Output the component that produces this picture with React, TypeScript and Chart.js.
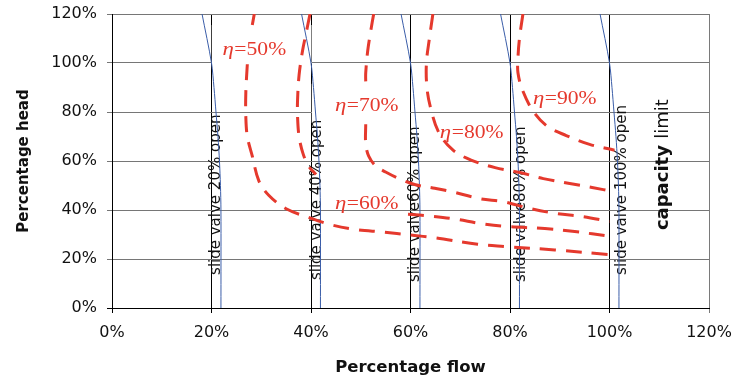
import React, { useEffect, useRef } from 'react';
import { Chart, registerables } from 'chart.js';

Chart.register(...registerables);

// ---------- data ----------
const FLOW_TICKS = [0, 20, 40, 60, 80, 100, 120];
const HEAD_TICKS = [0, 20, 40, 60, 80, 100, 120];

const valveNames = [
  'slide valve 20% open',
  'slide valve 40% open',
  'slide valve60% open',
  'slide valve80% open',
  'slide valve 100% open',
];
const valveHead = [120, 100, 90, 80, 70, 60, 50, 40, 0];
const valve20Flow = [18.1, 20.0, 20.5, 20.9, 21.3, 21.6, 21.8, 21.9, 21.9];
const valve40Flow = [38.1, 40.0, 40.5, 40.9, 41.3, 41.6, 41.8, 41.9, 41.9];
const valve60Flow = [58.1, 60.0, 60.5, 60.9, 61.3, 61.6, 61.8, 61.9, 61.9];
const valve80Flow = [78.1, 80.0, 80.5, 80.9, 81.3, 81.6, 81.8, 81.9, 81.9];
const valve100Flow = [98.1, 100.0, 100.5, 100.9, 101.3, 101.6, 101.8, 101.9, 101.9];

const etaNames = ['50%', '60%', '70%', '80%', '90%'];
// null head = gap in the curve (hidden behind a label)
const eta50Flow = [28.6, 28.2, 28.0, 27.2, 26.9, 26.9, 27.2, 28.2, 29.5, 31.5, 35.0, 39.5, 44.0, 49.0, 54.5, 60.0, 65.0, 73.5, 79.0, 89.0, 100.0];
const eta50Head = [120, 115.5, null, 99.5, 88, 78, 70, 62, 52, 46, 40.5, 37, 34, 32, 31, 29.8, 28.6, 26, 25.1, 23.7, 21.8];
const eta60Flow = [39.8, 39.0, 38.3, 37.6, 37.3, 37.3, 37.6, 38.4, 39.5, 41.0, 50.0, 59.5, 64.0, 69.0, 74.0, 79.0, 87.0, 93.0, 100.0];
const eta60Head = [120, 112, 105, 95, 85, 78, 70, 63, 58, 54.5, null, 38.3, 37.5, 36.3, 34.5, 33.3, 32.4, 31.2, 29.3];
const eta70Flow = [52.6, 52.0, 51.4, 51.0, 51.0, 51.0, 51.0, 51.0, 51.6, 53.0, 55.0, 58.0, 61.0, 64.5, 68.0, 74.0, 78.7, 84.0, 89.2, 94.7, 100.0];
const eta70Head = [120, 113, 105, 96, 92, null, 75, 67, 62, 58, 55.5, 52.5, 50.3, 49, 47.6, 44.6, 43.4, 40.6, 38.6, 37.3, 35.3];
const eta80Flow = [64.5, 63.8, 63.2, 63.3, 64.0, 65.6, 68.5, 72.3, 77.0, 82.0, 86.7, 92.0, 96.5, 101.0];
const eta80Head = [120, 110, 100, 90, 82, 72, 64.5, 60.3, 57.3, 55.3, 52.8, 50.8, 49.2, 47.4];
const eta90Flow = [82.6, 81.9, 81.6, 81.6, 82.5, 84.6, 87.4, 91.3, 96.0, 101.0];
const eta90Head = [120, 110, 102, 96, 89, 80.5, 74.3, 70.4, 66.8, 64.4];

const capacityWords = ['capacity', 'limit'];

// ---------- label placement (data coordinates) ----------
const ETA_LABEL_POS = [
  [22.2, 103.3],
  [44.8, 40.6],
  [44.8, 80.3],
  [65.9, 69.5],
  [84.6, 83.3],
];
const VALVE_LABEL_POS = [
  [21.7, 13.5],
  [42.0, 11.4],
  [61.8, 10.6],
  [83.0, 10.6],
  [103.4, 13.5],
];
const CAPACITY_POS = [111.8, 31.8];
const LABEL_BOXES = [
  { x0: 20.05, x1: 40.1, y0: 99.7, y1: 115.5 },
  { x0: 40.15, x1: 59.9, y0: 75.5, y1: 91.5 },
];

const RED = '#e5392d';
const BLUE = '#3a5da8';

function pts(xs: number[], ys: (number | null)[]) {
  return xs.map((x, i) => ({ x, y: ys[i] }));
}

const overlayPlugin = {
  id: 'overlayLabels',
  beforeDatasetsDraw(chart: any) {
    const { ctx, scales } = chart;
    const x = scales.x, y = scales.y;
    ctx.save();
    ctx.fillStyle = '#ffffff';
    for (const b of LABEL_BOXES) {
      const l = x.getPixelForValue(b.x0), r = x.getPixelForValue(b.x1);
      const t = y.getPixelForValue(b.y1), bt = y.getPixelForValue(b.y0);
      ctx.fillRect(l, t, r - l, bt - t);
    }
    ctx.fillStyle = '#111';
    ctx.font = '15px "DejaVu Sans"';
    ctx.textAlign = 'left';
    ctx.textBaseline = 'alphabetic';
    valveNames.forEach((name, i) => {
      const px = x.getPixelForValue(VALVE_LABEL_POS[i][0]);
      const py = y.getPixelForValue(VALVE_LABEL_POS[i][1]);
      ctx.save();
      ctx.translate(px, py);
      ctx.rotate(-Math.PI / 2);
      ctx.fillText(name, 0, 0);
      ctx.restore();
    });
    // capacity limit
    {
      const px = x.getPixelForValue(CAPACITY_POS[0]);
      const py = y.getPixelForValue(CAPACITY_POS[1]);
      ctx.save();
      ctx.translate(px, py);
      ctx.rotate(-Math.PI / 2);
      ctx.font = 'bold 18px "DejaVu Sans"';
      ctx.fillText(capacityWords[0], 0, 0);
      const w = ctx.measureText(capacityWords[0] + ' ').width;
      ctx.font = '18px "DejaVu Sans"';
      ctx.fillText(capacityWords[1], w, 0);
      ctx.restore();
    }
    ctx.restore();
  },
  afterDatasetsDraw(chart: any) {
    const { ctx, scales } = chart;
    const x = scales.x, y = scales.y;
    ctx.save();
    ctx.fillStyle = RED;
    ctx.textAlign = 'left';
    ctx.textBaseline = 'alphabetic';
    etaNames.forEach((name, i) => {
      const px = x.getPixelForValue(ETA_LABEL_POS[i][0]);
      const py = y.getPixelForValue(ETA_LABEL_POS[i][1]);
      ctx.save();
      ctx.translate(px, py);
      ctx.scale(1.2, 1);
      ctx.font = 'italic 19px "Liberation Serif"';
      ctx.fillText('\u03B7', 0, 0);
      const w = ctx.measureText('\u03B7').width;
      ctx.font = '18px "Liberation Serif"';
      ctx.fillText('=' + name, w + 0.5, 0);
      ctx.restore();
    });
    ctx.restore();
  },
};

export default function App() {
  const ref = useRef<HTMLCanvasElement | null>(null);
  useEffect(() => {
    if (!ref.current) return;
    const redDs = (data: any) => ({
      data,
      showLine: true,
      borderColor: RED,
      borderWidth: 3,
      borderDash: [16, 10],
      pointRadius: 0,
      tension: 0.35,
      spanGaps: false,
      fill: false,
    });
    const blueDs = (data: any) => ({
      data,
      showLine: true,
      borderColor: BLUE,
      borderWidth: 1,
      pointRadius: 0,
      tension: 0.3,
      fill: false,
    });
    const chart = new Chart(ref.current, {
      type: 'scatter',
      data: {
        datasets: [
          redDs(pts(eta50Flow, eta50Head)),
          redDs(pts(eta60Flow, eta60Head)),
          redDs(pts(eta70Flow, eta70Head)),
          redDs(pts(eta80Flow, eta80Head)),
          redDs(pts(eta90Flow, eta90Head)),
          blueDs(pts(valve20Flow, valveHead)),
          blueDs(pts(valve40Flow, valveHead)),
          blueDs(pts(valve60Flow, valveHead)),
          blueDs(pts(valve80Flow, valveHead)),
          blueDs(pts(valve100Flow, valveHead)),
        ] as any,
      },
      options: {
        animation: false,
        responsive: false,
        devicePixelRatio: 1,
        layout: { padding: { left: 0, right: 38, top: 14, bottom: 0 } },
        plugins: { legend: { display: false }, tooltip: { enabled: false } },
        scales: {
          x: {
            type: 'linear',
            min: 0,
            max: 120,
            afterBuildTicks: (s: any) => { s.ticks = FLOW_TICKS.map((v) => ({ value: v })); },
            afterFit: (s: any) => { s.height = 71; s.paddingLeft = 0; s.paddingRight = 0; },
            ticks: {
              callback: (v: any) => v + '%',
              font: { family: 'DejaVu Sans', size: 16 },
              color: '#111',
              padding: 10,
              maxRotation: 0,
              autoSkip: false,
            },
            grid: {
              color: (c: any) => (c.index === FLOW_TICKS.length - 1 ? '#7a7a7a' : '#000'),
              tickLength: 5,
              lineWidth: 1,
            },
            border: { color: '#000' },
            title: {
              display: true,
              text: 'Percentage flow',
              color: '#111',
              font: { family: 'DejaVu Sans', size: 16.5, weight: 'bold' },
              padding: { top: 0, bottom: 1 },
            },
          },
          y: {
            type: 'linear',
            min: 0,
            max: 120,
            afterBuildTicks: (s: any) => { s.ticks = HEAD_TICKS.map((v) => ({ value: v })); },
            afterFit: (s: any) => { s.width = 112; s.paddingTop = 0; s.paddingBottom = 0; },
            ticks: {
              callback: (v: any) => v + '%',
              font: { family: 'DejaVu Sans', size: 16 },
              color: '#111',
              padding: 10,
              autoSkip: false,
            },
            grid: {
              color: (c: any) => (c.index === 0 ? '#000' : '#767676'),
              tickLength: 5,
              lineWidth: 1,
            },
            border: { color: '#000' },
            title: {
              display: true,
              text: 'Percentage head',
              color: '#111',
              font: { family: 'DejaVu Sans', size: 15, weight: 'bold' },
              padding: { top: 15, bottom: 0 },
            },
          },
        },
      } as any,
      plugins: [overlayPlugin as any],
    });
    return () => chart.destroy();
  }, []);
  return (
    <div style={{ position: 'fixed', left: 0, top: 0, width: 747, height: 379, background: '#fff' }}>
      <canvas ref={ref} width={747} height={379} style={{ display: 'block' }} />
    </div>
  );
}
